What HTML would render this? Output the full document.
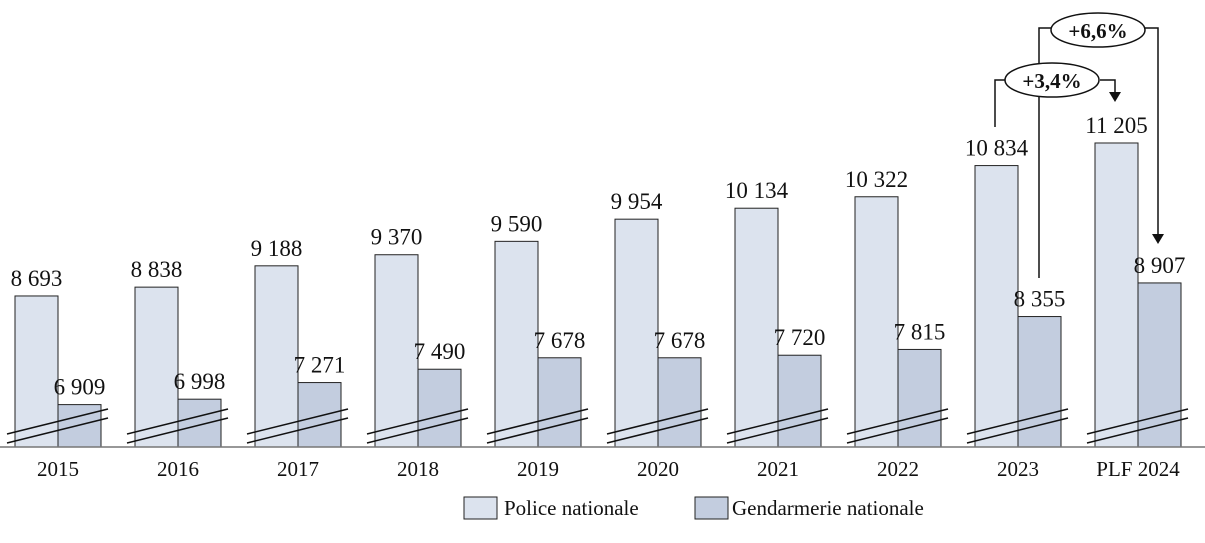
<!DOCTYPE html>
<html><head><meta charset="utf-8"><style>
body{margin:0;background:#fff;}
svg text{font-family:"Liberation Serif",serif;fill:#111;}
</style></head><body>
<svg id="c" width="1205" height="538" viewBox="0 0 1205 538"></svg>
<script>
const categories=["2015","2016","2017","2018","2019","2020","2021","2022","2023","PLF 2024"];
const police=[8693,8838,9188,9370,9590,9954,10134,10322,10834,11205];
const gend=[6909,6998,7271,7490,7678,7678,7720,7815,8355,8907];
const policeLabels=["8 693","8 838","9 188","9 370","9 590","9 954","10 134","10 322","10 834","11 205"];
const gendLabels=["6 909","6 998","7 271","7 490","7 678","7 678","7 720","7 815","8 355","8 907"];
const NS="http://www.w3.org/2000/svg";
const svg=document.getElementById('c');
const base=447;
function y(v){return base-(v-6213)*0.0609;}
function x(i){return 15+i*120;}
function mk(t,a,txt){const e=document.createElementNS(NS,t);for(const k in a)e.setAttribute(k,a[k]);if(txt!==undefined)e.textContent=txt;svg.appendChild(e);return e;}
categories.forEach((c,i)=>{
 const x0=x(i);
 let r=mk('rect',{x:x0,y:y(police[i]),width:43,height:base-y(police[i]),fill:'#dce3ee',stroke:'#222','stroke-width':1});
 
 
 r=mk('rect',{x:x0+43,y:y(gend[i]),width:43,height:base-y(gend[i]),fill:'#c3cddf',stroke:'#222','stroke-width':1});
 
 
 mk('line',{x1:x0-8,y1:434,x2:x0+93,y2:409,stroke:'#111','stroke-width':1.5});
 mk('line',{x1:x0-8,y1:443,x2:x0+93,y2:418,stroke:'#111','stroke-width':1.5});
 let t=mk('text',{x:x0+21.5,y:y(police[i])-10,'text-anchor':'middle','font-size':23},policeLabels[i]);
 
 
 t=mk('text',{x:x0+64.5,y:y(gend[i])-10,'text-anchor':'middle','font-size':23},gendLabels[i]);
 
 
 t=mk('text',{x:x0+43,y:476,'text-anchor':'middle','font-size':21},c);
 
 
});
mk('line',{x1:0,y1:base,x2:1205,y2:base,stroke:'#777','stroke-width':1.5});
</script>
<svg width="1205" height="538" style="position:absolute;left:0;top:0">
<g fill="none" stroke="#111" stroke-width="1.5">
<polyline points="1039,278 1039,28 1052,28"/>
<polyline points="1144,28 1158,28 1158,234"/>
<polyline points="995,127 995,80 1005,80"/>
<polyline points="1100,80 1115,80 1115,92"/>
</g>
<polygon points="1152,234 1164,234 1158,244" fill="#111"/>
<polygon points="1109,92 1121,92 1115,102" fill="#111"/>
<g><ellipse cx="1098" cy="30" rx="47" ry="17" fill="#fff" stroke="#111" stroke-width="1.5"/><text x="1098" y="38" text-anchor="middle" font-size="21" font-weight="bold" font-family="Liberation Serif,serif">+6,6%</text></g>
<g><ellipse cx="1052" cy="80" rx="47" ry="17" fill="#fff" stroke="#111" stroke-width="1.5"/><text x="1052" y="88" text-anchor="middle" font-size="21" font-weight="bold" font-family="Liberation Serif,serif">+3,4%</text></g>
<g font-family="Liberation Serif,serif" font-size="21">
<rect x="464" y="497" width="33" height="22" fill="#dce3ee" stroke="#222"/><text x="504" y="515">Police nationale</text>
<rect x="695" y="497" width="33" height="22" fill="#c3cddf" stroke="#222"/><text x="732" y="515">Gendarmerie nationale</text>
</g>
</svg>
</body></html>
